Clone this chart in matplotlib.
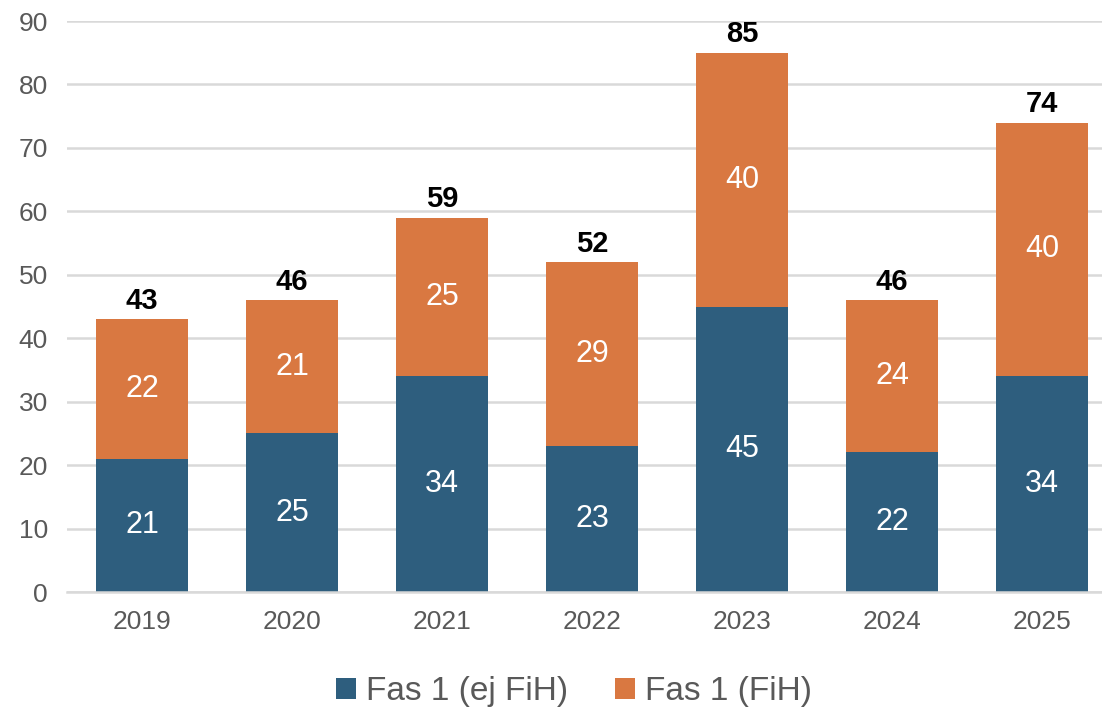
import matplotlib.pyplot as plt
import numpy as np

plt.rcParams['font.family'] = ['Liberation Sans', 'DejaVu Sans']

years = ['2019', '2020', '2021', '2022', '2023', '2024', '2025']
ej_fih = [21, 25, 34, 23, 45, 22, 34]
fih = [22, 21, 25, 29, 40, 24, 40]
totals = [a + b for a, b in zip(ej_fih, fih)]

blue = '#2E5E7E'
orange = '#D97841'
grey = '#595959'

fig = plt.figure(figsize=(11.02, 7.12), dpi=100)
ax = fig.add_axes([0.061, 0.1685, 0.939, 0.802])

x = np.arange(len(years))
w = 0.61
b1 = ax.bar(x, ej_fih, w, color=blue, label='Fas 1 (ej FiH)', zorder=2)
b2 = ax.bar(x, fih, w, bottom=ej_fih, color=orange, label='Fas 1 (FiH)', zorder=2)

ax.bar_label(b1, labels=[str(v) for v in ej_fih], label_type='center', color='white', fontsize=22)
ax.bar_label(b2, labels=[str(v) for v in fih], label_type='center', color='white', fontsize=22)
for xi, t in zip(x, totals):
    ax.text(xi, t + 0.7, str(t), ha='center', va='bottom', fontsize=21, fontweight='bold', color='black')

ax.set_xlim(-0.5, 6.4)
ax.set_ylim(0, 90)
ax.set_yticks(range(0, 91, 10))
ax.set_xticks(x)
ax.set_xticklabels(years)
ax.yaxis.grid(True, color='#D9D9D9', linewidth=1.8, zorder=0)
ax.set_axisbelow(True)
for s in ['top', 'right', 'left']:
    ax.spines[s].set_visible(False)
ax.spines['bottom'].set_color('#D9D9D9')
ax.spines['bottom'].set_linewidth(1.8)
ax.tick_params(axis='both', length=0, labelsize=19, labelcolor=grey)
ax.tick_params(axis='x', pad=13)
ax.tick_params(axis='y', pad=14)

ax.legend(loc='upper center', bbox_to_anchor=(0.49, -0.095), ncol=2, frameon=False,
          fontsize=24, labelcolor=grey, handlelength=0.6, handleheight=0.6,
          handletextpad=0.3, columnspacing=1.4)

fig.savefig('out.png', dpi=100)
